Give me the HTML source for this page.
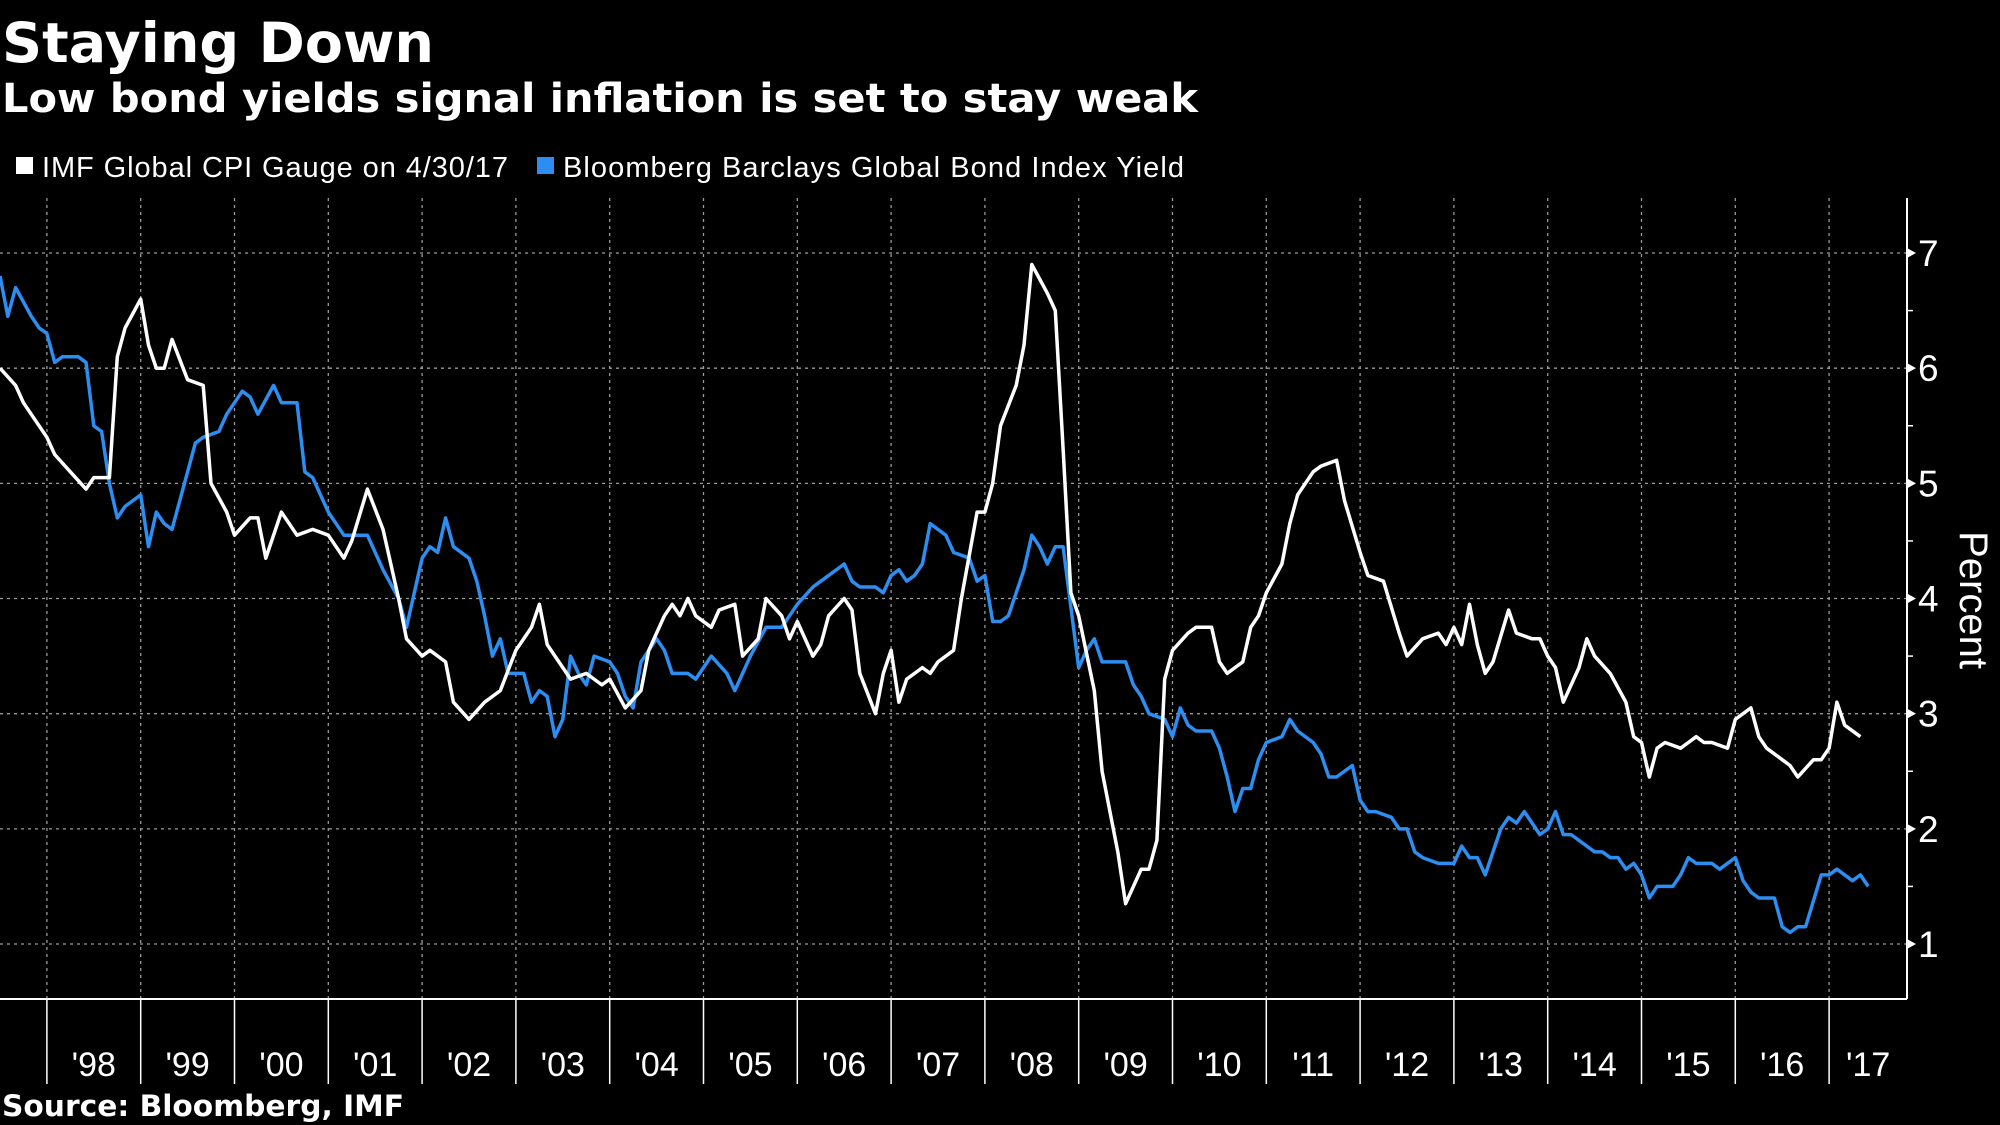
<!DOCTYPE html>
<html><head><meta charset="utf-8"><style>
html,body{margin:0;padding:0;background:#000;}
svg{display:block;font-family:"Liberation Sans",sans-serif;}
.dv{font-family:"DejaVu Sans","Liberation Sans",sans-serif;font-weight:bold;}
</style></head><body>
<svg id="chart" width="2000" height="1125" viewBox="0 0 2000 1125">
<rect width="2000" height="1125" fill="#000"/>
<text class="dv" x="2" y="62" fill="#fff" font-size="55" textLength="432" lengthAdjust="spacingAndGlyphs">Staying Down</text>
<text class="dv" x="2" y="112" fill="#fff" font-size="40" textLength="1196" lengthAdjust="spacingAndGlyphs">Low bond yields signal inflation is set to stay weak</text>
<g>
<rect x="16" y="157" width="17" height="17" fill="#fff"/>
<text x="42" y="177" fill="#fff" font-size="29" textLength="466">IMF Global CPI Gauge on 4/30/17</text>
<rect x="537" y="157" width="17" height="17" fill="#2c8ef0"/>
<text x="563" y="177" fill="#fff" font-size="29" textLength="621">Bloomberg Barclays Global Bond Index Yield</text>
</g>
<g id="grid"></g>
<g id="axes"></g>
<g id="series"></g>
<text transform="translate(1960,600) rotate(90)" fill="#fff" font-size="40" text-anchor="middle">Percent</text>
<text class="dv" x="2" y="1116" fill="#fff" font-size="29" textLength="402" lengthAdjust="spacingAndGlyphs">Source: Bloomberg, IMF</text>
</svg>
<script>
// months since Jul 1997
const cpiMonths=[0,2,3,6,7,9,11,12,14,15,16,18,19,20,21,22,24,26,27,29,30,32,33,34,36,38,40,42,44,45,47,49,51,52,54,55,57,58,60,62,64,66,68,69,70,72,73,75,77,78,80,82,83,85,86,87,88,89,91,92,94,95,97,98,100,101,102,104,105,106,108,109,110,112,113,114,115,116,118,119,120,122,123,125,126,127,128,130,131,132,134,135,136,137,138,140,141,143,144,146,147,148,149,150,152,153,155,156,157,159,160,161,162,164,165,166,168,169,171,172,174,175,177,179,180,182,184,185,186,187,188,189,190,191,193,194,196,197,198,199,200,202,203,204,206,208,209,210,211,212,213,215,216,217,218,219,221,222,224,225,226,228,229,230,232,233,234,235,236,238];
const cpiValues=[6.0,5.85,5.7,5.4,5.25,5.1,4.95,5.05,5.05,6.1,6.35,6.6,6.2,6.0,6.0,6.25,5.9,5.85,5.0,4.75,4.55,4.7,4.7,4.35,4.75,4.55,4.6,4.55,4.35,4.5,4.95,4.6,4.0,3.65,3.5,3.55,3.45,3.1,2.95,3.1,3.2,3.55,3.75,3.95,3.6,3.4,3.3,3.35,3.25,3.3,3.05,3.2,3.55,3.85,3.95,3.85,4.0,3.85,3.75,3.9,3.95,3.5,3.65,4.0,3.85,3.65,3.8,3.5,3.6,3.85,4.0,3.9,3.35,3.0,3.35,3.55,3.1,3.3,3.4,3.35,3.45,3.55,4.0,4.75,4.75,5.0,5.5,5.85,6.2,6.9,6.65,6.5,5.3,4.05,3.85,3.2,2.5,1.8,1.35,1.65,1.65,1.9,3.3,3.55,3.7,3.75,3.75,3.45,3.35,3.45,3.75,3.85,4.05,4.3,4.65,4.9,5.1,5.15,5.2,4.85,4.4,4.2,4.15,3.7,3.5,3.65,3.7,3.6,3.75,3.6,3.95,3.6,3.35,3.45,3.9,3.7,3.65,3.65,3.5,3.4,3.1,3.4,3.65,3.5,3.35,3.1,2.8,2.75,2.45,2.7,2.75,2.7,2.75,2.8,2.75,2.75,2.7,2.95,3.05,2.8,2.7,2.6,2.55,2.45,2.6,2.6,2.7,3.1,2.9,2.8];
const bondMonths=[0,1,2,4,5,6,7,8,10,11,12,13,14,15,16,18,19,20,21,22,24,25,26,28,29,31,32,33,35,36,38,39,40,42,44,45,47,49,51,52,54,55,56,57,58,60,61,62,63,64,65,67,68,69,70,71,72,73,74,75,76,78,79,80,81,82,84,85,86,88,89,90,91,93,94,95,96,98,99,100,101,102,104,105,106,108,109,110,112,113,114,115,116,117,118,119,121,122,124,125,126,127,128,129,131,132,133,134,135,136,138,139,140,141,142,144,145,146,147,149,150,151,152,153,155,156,157,158,159,160,161,162,164,165,166,168,169,170,171,173,174,175,176,178,179,180,181,182,184,185,186,187,188,189,190,192,193,194,195,196,197,198,199,200,201,202,204,205,206,207,208,209,210,211,212,214,215,216,217,219,220,222,223,224,225,227,228,229,230,231,233,234,235,237,238,239];
const bondValues=[6.8,6.45,6.7,6.45,6.35,6.3,6.05,6.1,6.1,6.05,5.5,5.45,5.0,4.7,4.8,4.9,4.45,4.75,4.65,4.6,5.1,5.35,5.4,5.45,5.6,5.8,5.75,5.6,5.85,5.7,5.7,5.1,5.05,4.75,4.55,4.55,4.55,4.25,4.0,3.75,4.35,4.45,4.4,4.7,4.45,4.35,4.15,3.85,3.5,3.65,3.35,3.35,3.1,3.2,3.15,2.8,2.95,3.5,3.35,3.25,3.5,3.45,3.35,3.15,3.05,3.45,3.65,3.55,3.35,3.35,3.3,3.4,3.5,3.35,3.2,3.35,3.5,3.75,3.75,3.75,3.85,3.95,4.1,4.15,4.2,4.3,4.15,4.1,4.1,4.05,4.2,4.25,4.15,4.2,4.3,4.65,4.55,4.4,4.35,4.15,4.2,3.8,3.8,3.85,4.25,4.55,4.45,4.3,4.45,4.45,3.4,3.55,3.65,3.45,3.45,3.45,3.25,3.15,3.0,2.95,2.8,3.05,2.9,2.85,2.85,2.7,2.45,2.15,2.35,2.35,2.6,2.75,2.8,2.95,2.85,2.75,2.65,2.45,2.45,2.55,2.25,2.15,2.15,2.1,2.0,2.0,1.8,1.75,1.7,1.7,1.7,1.85,1.75,1.75,1.6,2.0,2.1,2.05,2.15,2.05,1.95,2.0,2.15,1.95,1.95,1.9,1.8,1.8,1.75,1.75,1.65,1.7,1.6,1.4,1.5,1.5,1.6,1.75,1.7,1.7,1.65,1.75,1.55,1.45,1.4,1.4,1.15,1.1,1.15,1.15,1.6,1.6,1.65,1.55,1.6,1.5];
const yTicks=[1,2,3,4,5,6,7];
const yearLabels=["'98","'99","'00","'01","'02","'03","'04","'05","'06","'07","'08","'09","'10","'11","'12","'13","'14","'15","'16","'17"];

const NS="http://www.w3.org/2000/svg";
const X0=0, PX_PER_MONTH=93.8/12, AXIS_X=1907, PLOT_TOP=198, PLOT_BOTTOM=999;
const xScale=m=>X0+m*PX_PER_MONTH;
const yScale=v=>253+(7-v)*115.17;
function mk(tag,attrs,parent){const e=document.createElementNS(NS,tag);for(const k in attrs)e.setAttribute(k,attrs[k]);parent.appendChild(e);return e;}
const grid=document.getElementById('grid'), axes=document.getElementById('axes'), series=document.getElementById('series');

yTicks.forEach(v=>{
  const y=yScale(v);
  const g=mk('line',{x1:0,x2:AXIS_X,y1:y,y2:y,stroke:'#9a9a9a','stroke-width':1.3,'stroke-dasharray':'3 4'},grid);
  
  
  const t=mk('polygon',{points:`${AXIS_X},${y-5} ${AXIS_X+9},${y} ${AXIS_X},${y+5}`,fill:'#fff'},axes);
  
  
  const l=mk('text',{x:AXIS_X+11,y:y+13,fill:'#fff','font-size':37},axes);
  l.textContent=v;
  
  
  if(v<7){const h=yScale(v+0.5);
    const m=mk('line',{x1:AXIS_X,x2:AXIS_X+6,y1:h,y2:h,stroke:'#fff','stroke-width':1.5},axes);
    
    }
});
yearLabels.forEach((lab,i)=>{
  const m=6+12*i, x=xScale(m);
  const g=mk('line',{x1:x,x2:x,y1:PLOT_TOP,y2:PLOT_BOTTOM,stroke:'#9a9a9a','stroke-width':1.3,'stroke-dasharray':'3 4'},grid);
  
  
  const t=mk('line',{x1:x,x2:x,y1:PLOT_BOTTOM,y2:1084,stroke:'#fff','stroke-width':1.5},axes);
  
  
  const cx=(i===yearLabels.length-1)?xScale(m+5):xScale(m+6);
  const l=mk('text',{x:cx,y:1076,fill:'#fff','font-size':34,'text-anchor':'middle'},axes);
  l.textContent=lab;
  
  
});
const ax=mk('line',{x1:0,x2:AXIS_X,y1:PLOT_BOTTOM,y2:PLOT_BOTTOM,stroke:'#fff','stroke-width':2},axes);


const ay=mk('line',{x1:AXIS_X,x2:AXIS_X,y1:PLOT_TOP,y2:PLOT_BOTTOM,stroke:'#fff','stroke-width':2},axes);



function path(ms,vs){return ms.map((m,i)=>(i?'L':'M')+xScale(m).toFixed(1)+','+yScale(vs[i]).toFixed(1)).join(' ');}
const pb=mk('path',{d:path(bondMonths,bondValues),fill:'none',stroke:'#2c8ef0','stroke-width':3.5,'stroke-linejoin':'round'},series);


const pc=mk('path',{d:path(cpiMonths,cpiValues),fill:'none',stroke:'#ffffff','stroke-width':3.5,'stroke-linejoin':'round'},series);


</script>
</body></html>
